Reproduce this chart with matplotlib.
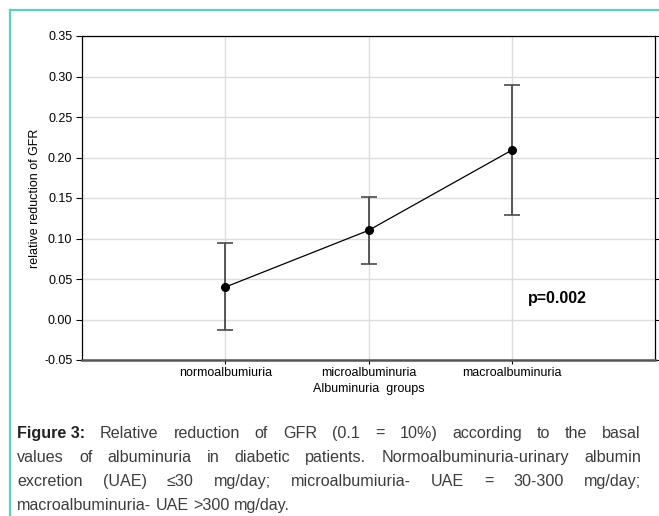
import matplotlib
matplotlib.use("Agg")
import matplotlib.pyplot as plt
from matplotlib.lines import Line2D
from matplotlib import font_manager

# data
groups = ["normoalbumiuria", "microalbuminuria", "macroalbuminuria"]
means = [0.040, 0.110, 0.209]
upper = [0.094, 0.151, 0.289]
lower = [-0.013, 0.069, 0.129]
yticks = [-0.05, 0.00, 0.05, 0.10, 0.15, 0.20, 0.25, 0.30, 0.35]

caption_head = "Figure 3:"
caption_lines = [
    "Relative reduction of GFR (0.1 = 10%) according to the basal",
    "values of albuminuria in diabetic patients. Normoalbuminuria-urinary albumin",
    "excretion (UAE) \u226430 mg/day; microalbumiuria- UAE = 30-300 mg/day;",
    "macroalbuminuria- UAE >300 mg/day.",
]

plt.rcParams['font.family'] = ['Liberation Sans', 'DejaVu Sans']
names = {f.name for f in font_manager.fontManager.ttflist}
narrow = 'Liberation Sans Narrow' in names
cap_font = ['Liberation Sans Narrow', 'DejaVu Sans'] if narrow else ['Liberation Sans', 'DejaVu Sans']

W, H = 659, 516
fig = plt.figure(figsize=(W / 100, H / 100), dpi=100)
ax = fig.add_axes([82 / W, 1 - 360 / H, (655 - 82) / W, (360 - 36) / H])

x = [1, 2, 3]
yerr = [[m - l for m, l in zip(means, lower)], [u - m for m, u in zip(means, upper)]]
ax.errorbar(x, means, yerr=yerr, fmt='none', ecolor='#4a4a4a', elinewidth=1.3,
            capsize=5.5, capthick=1.2, zorder=3)
ax.plot(x, means, color='black', lw=0.9, marker='o', ms=5.5, zorder=4)

ax.set_xlim(0, 4)
ax.set_ylim(-0.05, 0.35)
ax.set_xticks(x)
ax.set_xticklabels(groups, fontsize=9)
ax.set_yticks(yticks)
ax.set_yticklabels(["%.2f" % v for v in yticks], fontsize=9)
ax.grid(True, color='#dcdcdc', lw=1)
ax.set_axisbelow(True)
ax.tick_params(axis='y', direction='out', length=4, width=0.8, pad=3, right=True)
ax.tick_params(axis='x', direction='out', length=3, width=0.8, pad=2)
for s in ['left', 'top', 'right']:
    ax.spines[s].set_linewidth(0.9)
ax.spines['bottom'].set_color('#555555')
ax.spines['bottom'].set_linewidth(1.8)

ax.set_xlabel("Albuminuria  groups", fontsize=9, labelpad=3)
ax.set_ylabel("relative reduction of GFR", fontsize=9, labelpad=2)
ax.text(3.32, 0.0265, "p=0.002", fontsize=11.5, fontweight='bold', ha='center', va='center')

# teal frame (top and left)
teal = '#55d3bd'
fig.add_artist(Line2D([10 / W, 1], [1 - 10 / H, 1 - 10 / H], color=teal, lw=1.6))
fig.add_artist(Line2D([10 / W, 10 / W], [1 - 10 / H, 0], color=teal, lw=1.6))

# justified caption
renderer = fig.canvas.get_renderer()
x0, x1 = 17, 641
ys = [438, 462, 486, 510]
fs = 12.5 if narrow else 11.6
tcol = '#3c3c3c'

def width(t):
    return t.get_window_extent(renderer).width

for i, line in enumerate(caption_lines):
    words = line.split(" ")
    arts = []
    if i == 0:
        arts.append(fig.text(0, 1 - ys[i] / H, caption_head, fontsize=fs, fontweight='bold',
                             family=cap_font, color='#222222', va='baseline'))
    for w in words:
        arts.append(fig.text(0, 1 - ys[i] / H, w, fontsize=fs, family=cap_font,
                             color=tcol, va='baseline'))
    widths = [width(a) for a in arts]
    if i < len(caption_lines) - 1:
        gap = (x1 - x0 - sum(widths)) / (len(arts) - 1)
    else:
        sp = fig.text(0, 0, "a a", fontsize=fs, family=cap_font)
        sp2 = fig.text(0, 0, "aa", fontsize=fs, family=cap_font)
        gap = width(sp) - width(sp2)
        sp.remove(); sp2.remove()
    pos = x0
    for a, wd in zip(arts, widths):
        a.set_x(pos / W)
        pos += wd + gap

fig.savefig("out.png", dpi=100)
